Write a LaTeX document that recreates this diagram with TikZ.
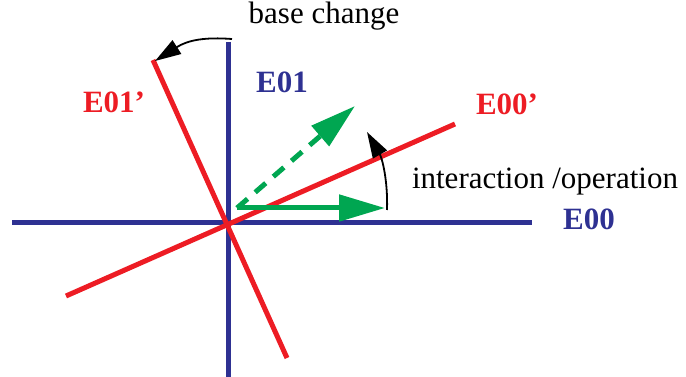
\documentclass[tikz,border=0pt]{standalone}
\usepackage{fontspec}
\setmainfont{Liberation Serif}
\usetikzlibrary{arrows.meta}
\definecolor{eblue}{RGB}{46,49,146}
\definecolor{ered}{RGB}{237,28,36}
\definecolor{egreen}{RGB}{0,166,81}
\begin{document}
\begin{tikzpicture}[x=1pt,y=-1pt,
  axis/.style={line width=5pt},
  vec/.style={egreen,line width=5pt,-{Triangle[length=46pt,width=26pt]}},
  marker/.style={black,line width=1.8pt,-{Triangle[length=26pt,width=16pt]}},
  lbl/.style={font=\fontsize{31}{31}\selectfont\bfseries,inner sep=0pt},
  txt/.style={font=\fontsize{31}{31}\selectfont,inner sep=0pt}]
\useasboundingbox (0,0) rectangle (686,377);
% axes
\coordinate (xl) at (12,223);
\coordinate (xr) at (532,223);
\coordinate (yt) at (228,42);
\coordinate (yb) at (228,377);
\draw[axis,eblue] (xl) -- (xr);
\draw[axis,eblue] (yt) -- (yb);
% rotated axes
\coordinate (al) at (66,296);
\coordinate (ar) at (455,124);
\coordinate (bt) at (153,60);
\coordinate (bb) at (287,358);
\draw[axis,ered] (al) -- (ar);
\draw[axis,ered] (bt) -- (bb);
% vectors
\coordinate (o) at (237,208);
\coordinate (v1) at (385,208);
\coordinate (v2) at (355,106);
\draw[vec] (o) -- (v1);
\draw[vec,dash pattern=on 14pt off 10pt] (o) -- (v2);
% curved markers
\coordinate (ia) at (387,210);
\coordinate (ib) at (367,132);
\draw[marker] (ia) .. controls (388,180) and (382,158) .. (ib);
\coordinate (ba) at (232,39);
\coordinate (bz) at (155,61);
\draw[marker] (ba) .. controls (205,37) and (188,40) .. (bz);
% labels
\node[lbl,eblue] (e01) at (282,82) {E01};
\node[lbl,eblue] (e00) at (589,219) {E00};
\node[lbl,ered] (e00p) at (507,104) {E00’};
\node[lbl,ered] (e01p) at (114,102) {E01’};
\node[txt] (bc) at (324,16) {base change};
\node[txt] (io) at (545,182) {interaction /operation};
\end{tikzpicture}
\end{document}
